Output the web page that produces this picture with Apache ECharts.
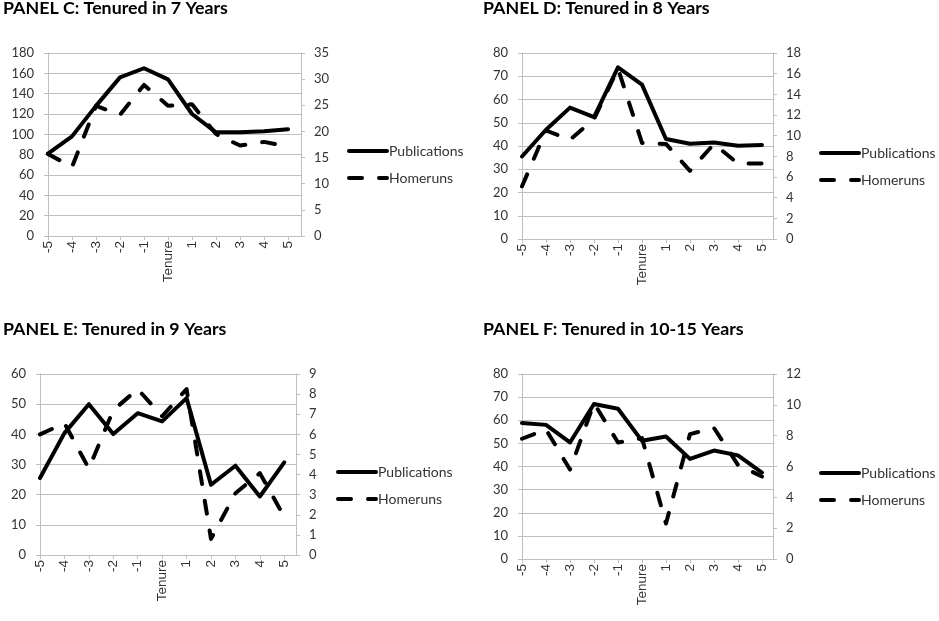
<!DOCTYPE html>
<html>
<head>
<meta charset="utf-8">
<script src="https://cdn.jsdelivr.net/npm/echarts@6/dist/echarts.min.js"></script>
<style>
  html, body { margin: 0; padding: 0; background: #fff; }
  #main { width: 939px; height: 621px; }
</style>
</head>
<body>
<div id="main"></div>
<script>
// tenure years relative to tenure (0 is labelled "Tenure")
var tenure = [-5, -4, -3, -2, -1, 0, 1, 2, 3, 4, 5];

var titles = [
    'PANEL C: Tenured in 7 Years',
    'PANEL D: Tenured in 8 Years',
    'PANEL E: Tenured in 9 Years',
    'PANEL F: Tenured in 10-15 Years'
];

// publications (left axis)
var pubC = [81, 98, 128, 156, 165, 154, 120, 102, 102, 103, 105];
var pubD = [35.5, 47, 56.5, 52.4, 73.8, 66.4, 43, 41, 41.5, 40.1, 40.4];
var pubE = [25.5, 40.4, 50, 40.1, 47, 44.3, 52, 23.3, 29.6, 19.4, 30.7];
var pubF = [58.8, 58, 50.4, 67, 65, 51.1, 53, 43.3, 46.9, 44.8, 37.4];

// homeruns (right axis)
var hrC = [15.7, 13.2, 24.9, 23.2, 28.9, 24.9, 25.2, 19.5, 17.3, 18, 17.1];
var hrD = [5.1, 10.5, 9.6, 11.6, 16.5, 9.3, 9.2, 6.6, 9.2, 7.3, 7.3];
var hrE = [6, 6.55, 4.3, 7.2, 8.25, 6.9, 8.25, 0.8, 3.07, 4.07, 1.9];
var hrF = [7.8, 8.4, 5.8, 10.1, 7.56, 7.84, 2.3, 8.1, 8.5, 6.1, 5.35];

// left / right axis ranges
var leftMax = [180, 80, 60, 80], leftStep = [20, 10, 10, 10];
var rightMax = [35, 18, 9, 12], rightStep = [5, 2, 1, 2];

var pubs = [pubC, pubD, pubE, pubF];
var hrs = [hrC, hrD, hrE, hrF];

// layout of each panel
var panels = [
    { grid: [48, 53, 253, 183], xMax: 5.54, title: [3, -1], legend: [347, 144] },
    { grid: [522, 53, 251, 186], xMax: 5.46, title: [483, -1], legend: [819, 146] },
    { grid: [40, 374, 256, 181], xMax: 5.48, title: [3, 320], legend: [336, 465] },
    { grid: [522, 374, 251, 185], xMax: 5.46, title: [483, 320], legend: [819, 466] }
];

var grey = '#bfbfbf';
var textCol = '#333';
var font = 'Lato, "Open Sans", sans-serif';

function pairs(ys) {
    return tenure.map(function (t, i) { return [t, ys[i]]; });
}

var option = {
    backgroundColor: '#fff',
    animation: false,
    title: [], grid: [], xAxis: [], yAxis: [], legend: [], series: []
};

panels.forEach(function (p, k) {
    option.title.push({
        text: titles[k], left: p.title[0], top: p.title[1], padding: 0,
        textStyle: { fontFamily: font, fontWeight: 'bold', fontSize: 17.8, color: '#000' }
    });
    option.grid.push({ left: p.grid[0], top: p.grid[1], width: p.grid[2], height: p.grid[3] });
    option.xAxis.push({
        type: 'value', gridIndex: k, min: -5, max: p.xMax,
        axisLine: { show: true, onZero: false, lineStyle: { color: grey, width: 1 } },
        axisTick: { show: true, length: 4, customValues: tenure, lineStyle: { color: grey } },
        splitLine: { show: false },
        axisLabel: {
            rotate: 90, margin: 5, customValues: tenure,
            fontFamily: 'Liberation Sans, Arial, sans-serif', fontSize: 13.5, color: textCol,
            formatter: function (v) { return v === 0 ? 'Tenure' : String(v); }
        }
    });
    option.yAxis.push({
        type: 'value', gridIndex: k, position: 'left', min: 0, max: leftMax[k], interval: leftStep[k],
        axisLine: { show: true, onZero: false, lineStyle: { color: grey } },
        axisTick: { show: true, length: 4, lineStyle: { color: grey } },
        splitLine: { show: true, lineStyle: { color: grey } },
        axisLabel: { margin: 14, fontFamily: font, fontSize: 13, color: textCol }
    });
    option.yAxis.push({
        type: 'value', gridIndex: k, position: 'right', min: 0, max: rightMax[k], interval: rightStep[k],
        axisLine: { show: true, onZero: false, lineStyle: { color: grey } },
        axisTick: { show: true, length: 4, lineStyle: { color: grey } },
        splitLine: { show: false },
        axisLabel: { margin: 13, fontFamily: font, fontSize: 13, color: textCol }
    });
    option.legend.push({
        orient: 'vertical', left: p.legend[0], top: p.legend[1], padding: 0,
        itemWidth: 38, itemHeight: 14, itemGap: 13, selectedMode: false,
        itemStyle: { color: 'transparent', borderWidth: 0 },
        lineStyle: { width: 4, cap: 'round' },
        data: ['Publications', 'Homeruns'],
        textStyle: { fontFamily: font, fontSize: 14, color: textCol, padding: [0, 0, 0, -3] }
    });
    option.series.push({
        name: 'Publications', type: 'line', xAxisIndex: k, yAxisIndex: 2 * k,
        data: pairs(pubs[k]), symbol: 'none', color: '#000',
        lineStyle: { color: '#000', width: 4, cap: 'round', join: 'round' }
    });
    option.series.push({
        name: 'Homeruns', type: 'line', xAxisIndex: k, yAxisIndex: 2 * k + 1,
        data: pairs(hrs[k]), symbol: 'none', color: '#000',
        lineStyle: { color: '#000', width: 4, type: [13, 17], cap: 'round', join: 'round' }
    });
});

var myChart = echarts.init(document.getElementById('main'));
myChart.setOption(option);
</script>
</body>
</html>
